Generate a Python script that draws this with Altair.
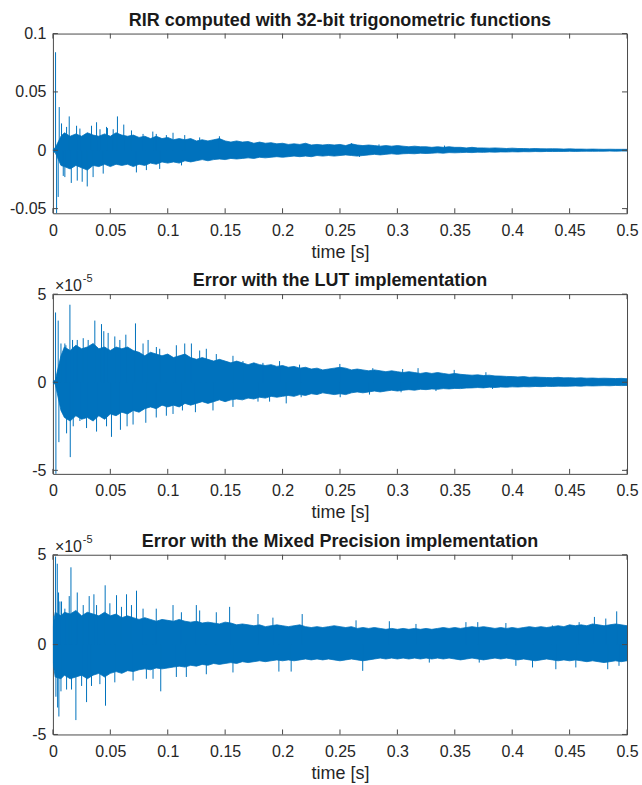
import altair as alt
import pandas as pd

BLUE = "#0072BD"
AX = "#4a4a4a"
FONT = "Liberation Sans"

# sampling grid of the envelope readings (seconds)
TIME = [0.0, 0.002, 0.007] + [round(0.01 + 0.005 * i, 3) for i in range(99)]
X_TICKS = [0, 0.05, 0.1, 0.15, 0.2, 0.25, 0.3, 0.35, 0.4, 0.45, 0.5]

TITLES = ["RIR computed with 32-bit trigonometric functions",
          "Error with the LUT implementation",
          "Error with the Mixed Precision implementation"]

# ---- panel 1: RIR (upper / lower envelope of the dense signal) ----
RIR_HI = [0.001, 0.002, 0.012,
          0.015, 0.012, 0.014, 0.012, 0.015, 0.013, 0.012, 0.014, 0.012, 0.015,
          0.013, 0.012, 0.013, 0.011, 0.012, 0.010, 0.012, 0.010, 0.011, 0.009,
          0.010, 0.009, 0.010, 0.008, 0.009, 0.008, 0.009, 0.010, 0.008, 0.007,
          0.008, 0.007, 0.0075, 0.006, 0.007, 0.006, 0.0065, 0.0055, 0.006, 0.005,
          0.0055, 0.005, 0.006, 0.0045, 0.005, 0.0045, 0.005, 0.0045, 0.005, 0.004,
          0.0055, 0.0045, 0.004, 0.0045, 0.004, 0.0035, 0.004, 0.0035, 0.004, 0.0035,
          0.003, 0.0035, 0.003, 0.003, 0.0025, 0.003, 0.0025, 0.003, 0.0025, 0.0025,
          0.002, 0.0025, 0.002, 0.002, 0.0018, 0.002, 0.0018, 0.0015, 0.0018, 0.0015,
          0.0015, 0.0013, 0.0015, 0.0013, 0.0012, 0.0013, 0.0012, 0.001, 0.0012, 0.001,
          0.001, 0.0009, 0.001, 0.0009, 0.0008, 0.0009, 0.0008, 0.0008, 0.0008]
RIR_LO = [-0.001, -0.002, -0.013,
          -0.014, -0.016, -0.013, -0.015, -0.017, -0.013, -0.014, -0.012, -0.014, -0.012,
          -0.013, -0.012, -0.014, -0.012, -0.013, -0.011, -0.012, -0.010, -0.011, -0.010,
          -0.011, -0.009, -0.010, -0.009, -0.008, -0.009, -0.008, -0.0075, -0.008, -0.007,
          -0.0075, -0.007, -0.0065, -0.007, -0.006, -0.0065, -0.006, -0.0055, -0.006, -0.0055,
          -0.005, -0.0055, -0.005, -0.0055, -0.0045, -0.005, -0.0045, -0.005, -0.0045, -0.004,
          -0.0045, -0.005, -0.0045, -0.004, -0.0035, -0.004, -0.0035, -0.003, -0.0035, -0.003,
          -0.0028, -0.003, -0.0025, -0.0028, -0.0025, -0.0022, -0.0025, -0.002, -0.0022, -0.002,
          -0.0018, -0.002, -0.0016, -0.0018, -0.0015, -0.0016, -0.0014, -0.0015, -0.0013, -0.0014,
          -0.0012, -0.0013, -0.0011, -0.0012, -0.001, -0.0011, -0.001, -0.001, -0.0009, -0.001,
          -0.0009, -0.0008, -0.0009, -0.0008, -0.0008, -0.0007, -0.0008, -0.0007, -0.0007]
RIR_SPIKE_T = [0.0023, 0.0032, 0.0046, 0.0055, 0.0075, 0.009, 0.0142, 0.016, 0.0206, 0.0255,
               0.0299, 0.0336, 0.041, 0.0475, 0.0562, 0.0617, 0.0727, 0.09, 0.112, 0.145, 0.26]
RIR_SPIKE_V = [0.084, -0.0545, -0.040, 0.037, 0.023, -0.022, 0.029, -0.028, 0.021, -0.027,
               -0.031, 0.021, 0.018, 0.019, 0.029, 0.022, -0.019, 0.014, -0.013, 0.012, 0.006]
RIR_SMALL_T = [0.0104, 0.0119, 0.0212, 0.0235, 0.035, 0.038, 0.0438, 0.0467, 0.0525, 0.0684,
               0.0785, 0.0814, 0.087, 0.093, 0.0988, 0.1046, 0.1148, 0.1278, 0.267, 0.284,
               0.302, 0.341]
RIR_SMALL_V = [-0.023, 0.020, -0.026, 0.0186, -0.023, 0.024, -0.020, 0.020, 0.018, 0.017,
               0.014, -0.017, 0.016, -0.016, 0.013, 0.015, 0.013, 0.011, -0.0057, 0.005,
               0.0037, 0.004]

# ---- panel 2: LUT error (x 1e-5) ----
LUT_HI = [0.05, 0.1, 1.5,
          2.0, 1.8, 2.1, 1.9, 2.0, 2.2, 1.9, 2.0, 1.8, 2.0,
          1.9, 2.0, 1.8, 1.7, 1.5, 1.7, 1.6, 1.5, 1.6, 1.4,
          1.5, 1.6, 1.4, 1.3, 1.4, 1.3, 1.2, 1.3, 1.2, 1.1,
          1.2, 1.1, 1.0, 1.1, 1.0, 0.95, 1.0, 0.9, 0.95, 0.85,
          0.9, 0.8, 0.85, 0.75, 0.8, 0.7, 0.75, 0.8, 0.85, 0.8,
          0.7, 0.75, 0.7, 0.65, 0.7, 0.65, 0.6, 0.65, 0.6, 0.55,
          0.6, 0.55, 0.5, 0.55, 0.5, 0.55, 0.5, 0.45, 0.5, 0.45,
          0.42, 0.4, 0.42, 0.38, 0.4, 0.36, 0.35, 0.33, 0.32, 0.3,
          0.32, 0.28, 0.3, 0.28, 0.27, 0.26, 0.28, 0.25, 0.26, 0.24,
          0.25, 0.23, 0.24, 0.22, 0.23, 0.22, 0.21, 0.22, 0.2]
LUT_LO = [-0.05, -0.1, -1.6,
          -2.0, -2.2, -1.9, -2.1, -2.0, -2.2, -1.9, -2.1, -1.8, -1.9,
          -1.7, -1.8, -1.6, -1.7, -1.5, -1.4, -1.5, -1.3, -1.4, -1.3,
          -1.4, -1.2, -1.3, -1.2, -1.1, -1.2, -1.1, -1.0, -1.1, -1.0,
          -0.95, -1.0, -0.9, -0.95, -0.85, -0.9, -0.8, -0.85, -0.8, -0.75,
          -0.8, -0.7, -0.75, -0.65, -0.7, -0.6, -0.65, -0.7, -0.65, -0.7,
          -0.6, -0.55, -0.6, -0.55, -0.5, -0.55, -0.5, -0.45, -0.5, -0.45,
          -0.42, -0.45, -0.4, -0.42, -0.38, -0.4, -0.36, -0.38, -0.35, -0.36,
          -0.33, -0.32, -0.3, -0.32, -0.28, -0.3, -0.27, -0.28, -0.26, -0.27,
          -0.25, -0.26, -0.24, -0.25, -0.23, -0.24, -0.22, -0.23, -0.22, -0.21,
          -0.22, -0.2, -0.21, -0.2, -0.19, -0.2, -0.18, -0.19, -0.18]
LUT_SPIKE_T = [0.0023, 0.0026, 0.0046, 0.0052, 0.007, 0.0113, 0.0119, 0.0148, 0.0151, 0.0171,
               0.0212, 0.0235, 0.0307, 0.0365, 0.038, 0.0423, 0.0443, 0.051, 0.0539, 0.0588,
               0.0635, 0.0646, 0.0719, 0.0809, 0.0829, 0.0901, 0.0988, 0.1128, 0.1148, 0.1206,
               0.1241, 0.1336, 0.1568, 0.1786, 0.1974, 0.2032, 0.2162, 0.2499, 0.2502, 0.3032,
               0.318, 0.3495]
LUT_SPIKE_V = [3.96, -5.3, 3.5, -3.4, 2.2, 2.1, -2.9, 4.4, -4.25, 2.4,
               2.4, -2.2, 2.4, 3.5, -2.8, 3.3, 2.9, -3.1, 2.6, -2.7,
               2.7, -2.5, 3.34, -2.3, 2.4, 2.0, -1.9, -1.6, 2.2, 2.2,
               -1.7, 1.9, 1.5, -1.1, 1.2, -1.2, -0.85, 1.04, -0.85, -0.57,
               0.8, 0.7]
LUT_SMALL_T = [0.0104, 0.0264, 0.0481, 0.0583, 0.0785, 0.093, 0.1075, 0.1278, 0.1423, 0.1655,
               0.1829, 0.2148, 0.0177, 0.0293, 0.0467, 0.0698, 0.09, 0.1046, 0.1394, 0.1568,
               0.1887, 0.2786, 0.3046, 0.3771, 0.2757, 0.3336, 0.3829]
LUT_SMALL_V = [2.2, 2.5, 2.8, 2.4, 2.2, 1.9, 2.1, 1.8, 1.6, 1.2,
               1.1, 1.0, -2.5, -2.6, -2.5, -2.4, -2.0, -1.8, -1.6, -1.4,
               -1.1, 0.8, 0.75, 0.57, -0.7, -0.5, -0.38]

# ---- panel 3: Mixed Precision error (x 1e-5) ----
MIX_HI = [1.0, 1.8, 1.6,
          1.8, 1.7, 1.9, 1.6, 1.8, 1.7, 1.6, 1.8, 1.6, 1.7,
          1.5, 1.6, 1.5, 1.4, 1.5, 1.4, 1.3, 1.4, 1.35, 1.3,
          1.4, 1.3, 1.25, 1.3, 1.2, 1.25, 1.2, 1.15, 1.25, 1.2,
          1.1, 1.15, 1.1, 1.05, 1.1, 1.0, 1.05, 1.1, 1.05, 1.0,
          1.05, 1.1, 1.0, 0.95, 1.0, 0.95, 1.0, 1.05, 1.0, 0.95,
          1.0, 0.9, 0.95, 0.9, 0.95, 0.9, 0.85, 0.9, 0.85, 0.9,
          0.85, 0.9, 0.85, 0.9, 0.85, 0.9, 0.95, 0.9, 0.95, 0.9,
          0.95, 1.0, 0.95, 1.0, 0.95, 0.9, 0.95, 0.9, 0.95, 0.9,
          0.95, 1.0, 0.95, 1.0, 0.95, 1.0, 1.05, 1.0, 1.1, 1.05,
          1.1, 1.05, 1.15, 1.1, 1.05, 1.1, 1.15, 1.1, 1.05]
MIX_LO = [-1.0, -1.8, -1.9,
          -1.7, -1.9, -1.8, -1.7, -1.9, -1.7, -1.6, -1.8, -1.6, -1.5,
          -1.6, -1.45, -1.5, -1.4, -1.35, -1.4, -1.3, -1.35, -1.3, -1.25,
          -1.2, -1.25, -1.15, -1.2, -1.1, -1.15, -1.05, -1.1, -1.05, -1.0,
          -1.05, -0.95, -1.0, -0.95, -0.9, -0.95, -0.9, -0.85, -0.9, -0.85,
          -0.9, -0.85, -0.8, -0.85, -0.8, -0.85, -0.8, -0.85, -0.9, -0.85,
          -0.8, -0.85, -0.9, -0.85, -0.8, -0.75, -0.8, -0.75, -0.8, -0.75,
          -0.8, -0.75, -0.8, -0.75, -0.8, -0.75, -0.8, -0.75, -0.8, -0.85,
          -0.8, -0.75, -0.8, -0.85, -0.8, -0.75, -0.8, -0.75, -0.8, -0.85,
          -0.8, -0.85, -0.9, -0.85, -0.8, -0.85, -0.9, -0.85, -0.9, -0.85,
          -0.9, -0.95, -0.9, -0.95, -1.0, -0.95, -0.9, -0.95, -0.9]
MIX_SPIKE_T = [0.0003, 0.0023, 0.0026, 0.0038, 0.0041, 0.0049, 0.0052, 0.0061, 0.007, 0.0142,
               0.0157, 0.0162, 0.02, 0.0212, 0.025, 0.0293, 0.0316, 0.0357, 0.0409, 0.0455,
               0.0458, 0.0554, 0.0641, 0.0728, 0.0814, 0.0939, 0.1046, 0.1119, 0.1162, 0.1249,
               0.1539, 0.1968, 0.2075, 0.2171, 0.2698, 0.293, 0.37, 0.3713, 0.4177, 0.438,
               0.4716, 0.4832, 0.491]
MIX_SPIKE_V = [1.6, 4.9, -2.9, 4.5, -3.5, 2.9, -4.0, 2.4, -2.6, 2.7,
               4.3, -2.5, -4.2, 2.9, -2.3, -3.2, 2.7, 2.8, -2.2, 3.3,
               -3.4, 2.75, 2.8, 3.0, -1.9, -2.6, 2.2, 1.8, -1.8, 2.2,
               2.1, -1.5, -1.5, 1.7, -1.46, 1.3, 1.25, -1.0, -1.27, -1.37,
               1.54, -1.37, 1.85]
MIX_SMALL_T = [0.0075, 0.0104, 0.0264, 0.038, 0.0496, 0.0597, 0.0684, 0.0785, 0.09, 0.1278,
               0.1423, 0.1786, 0.1916, 0.0119, 0.0336, 0.0539, 0.0698, 0.0872, 0.1075, 0.1336,
               0.1568, 0.264, 0.3162, 0.3597, 0.3945, 0.435, 0.4583, 0.4815, 0.3278, 0.4032,
               0.4554, 0.493]
MIX_SMALL_V = [2.4, 2.0, 2.2, 2.2, 2.3, 2.1, 2.2, 2.0, 2.0, 1.9,
               1.8, 1.7, 1.5, -2.5, -2.3, -2.1, -2.0, -1.9, -1.8, -1.65,
               -1.55, 1.35, 1.15, 1.25, 1.2, 1.07, 1.25, 1.45, -1.0, -1.18,
               -1.27, -1.18]

W = 575
H = 180
TICK = 5


def panel(title, lo, hi, st, sv, ydom, yticks, exponent):
    env = pd.DataFrame({"t": TIME, "lo": lo, "hi": hi})
    spk = pd.DataFrame({"t": st, "v": sv})
    xt = pd.DataFrame({"t": X_TICKS})
    yt = pd.DataFrame({"v": yticks})
    lab = pd.DataFrame({"title": [title], "a": ["×10"], "b": ["-5"]})

    xscale = alt.Scale(domain=[0, 0.5], nice=False, zero=False)
    yscale = alt.Scale(domain=ydom, nice=False, zero=False)
    xaxis = alt.Axis(values=X_TICKS, labelExpr="'' + datum.value", title="time [s]")
    yaxis = alt.Axis(values=yticks, labelExpr="'' + datum.value", title="")

    def X(f):
        return alt.X(f, scale=xscale, axis=xaxis)

    def Y(f):
        return alt.Y(f, scale=yscale, axis=yaxis)

    area = alt.Chart(env).mark_area(color=BLUE, stroke=BLUE, strokeWidth=0.8, clip=True).encode(
        x=X("t:Q"), y=Y("lo:Q"), y2="hi:Q")
    spikes = alt.Chart(spk).mark_rule(color=BLUE, strokeWidth=1, clip=True).encode(
        x=X("t:Q"), y=Y("v:Q"), y2=alt.datum(0))
    tb = alt.Chart(xt).mark_rule(color=AX, strokeWidth=1).encode(
        x=X("t:Q"), y=alt.value(H), y2=alt.value(H - TICK))
    tt = alt.Chart(xt).mark_rule(color=AX, strokeWidth=1).encode(
        x=X("t:Q"), y=alt.value(0), y2=alt.value(TICK))
    tl = alt.Chart(yt).mark_rule(color=AX, strokeWidth=1).encode(
        y=Y("v:Q"), x=alt.value(0), x2=alt.value(TICK))
    tr = alt.Chart(yt).mark_rule(color=AX, strokeWidth=1).encode(
        y=Y("v:Q"), x=alt.value(W - TICK), x2=alt.value(W))
    ttl = alt.Chart(lab).mark_text(
        align="center", baseline="alphabetic", fontSize=18, fontWeight="bold",
        font=FONT, color="#1a1a1a"
    ).encode(x=alt.value(W / 2), y=alt.value(-8), text="title:N")

    layers = [area, spikes, tb, tt, tl, tr, ttl]
    if exponent:
        layers.append(alt.Chart(lab).mark_text(
            align="left", baseline="alphabetic", fontSize=16, font=FONT, color="#262626"
        ).encode(x=alt.value(2), y=alt.value(-3), text="a:N"))
        layers.append(alt.Chart(lab).mark_text(
            align="left", baseline="alphabetic", fontSize=11, font=FONT, color="#262626"
        ).encode(x=alt.value(30), y=alt.value(-12), text="b:N"))

    return alt.layer(*layers).properties(width=W, height=H)


p1 = panel(TITLES[0], RIR_LO, RIR_HI,
           RIR_SPIKE_T + RIR_SMALL_T, RIR_SPIKE_V + RIR_SMALL_V,
           [-0.054, 0.1], [-0.05, 0, 0.05, 0.1], False)
p2 = panel(TITLES[1], LUT_LO, LUT_HI,
           LUT_SPIKE_T + LUT_SMALL_T, LUT_SPIKE_V + LUT_SMALL_V,
           [-5.2, 5], [-5, 0, 5], True)
p3 = panel(TITLES[2], MIX_LO, MIX_HI,
           MIX_SPIKE_T + MIX_SMALL_T, MIX_SPIKE_V + MIX_SMALL_V,
           [-5, 5], [-5, 0, 5], True)

chart = alt.vconcat(p1, p2, p3, spacing=9).properties(
    padding={"left": 9, "top": 10, "right": 3, "bottom": 0}
).configure_view(
    stroke=AX, strokeWidth=1
).configure_axis(
    domain=False, ticks=False, grid=False,
    labelFont=FONT, labelFontSize=16, labelColor="#262626",
    titleFont=FONT, titleFontSize=18, titleFontWeight="normal", titleColor="#262626",
    labelFlush=False, labelOverlap=False,
).configure_axisX(
    labelPadding=9, titlePadding=5
).configure_axisY(
    labelPadding=7
)

chart.save("out.html", embed_options={"renderer": "svg", "actions": False})
